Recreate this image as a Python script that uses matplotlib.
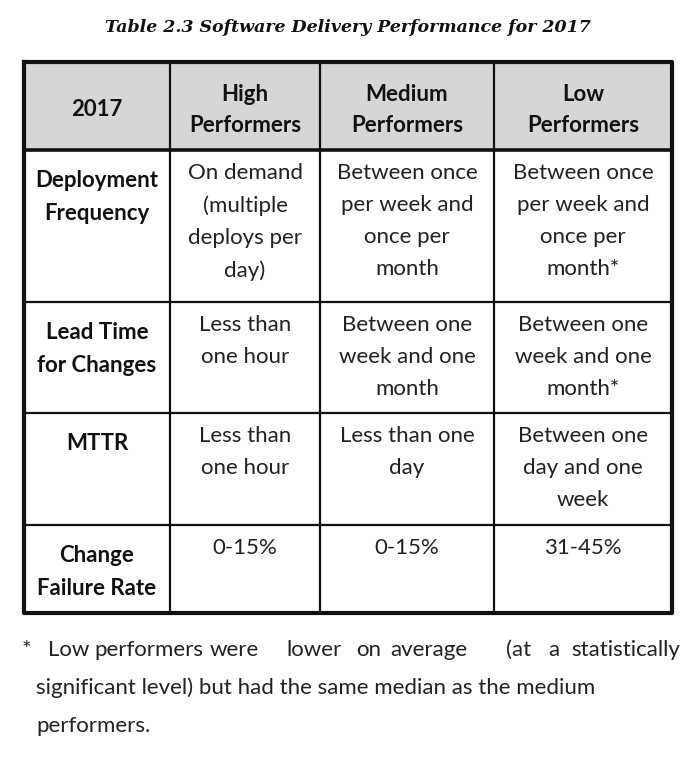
import matplotlib.pyplot as plt

title = "Table 2.3 Software Delivery Performance for 2017"
header = ["2017", "High\nPerformers", "Medium\nPerformers", "Low\nPerformers"]
row_labels = ["Deployment\nFrequency", "Lead Time\nfor Changes", "MTTR", "Change\nFailure Rate"]
high = ["On demand\n(multiple\ndeploys per\nday)", "Less than\none hour", "Less than\none hour", "0-15%"]
medium = ["Between once\nper week and\nonce per\nmonth", "Between one\nweek and one\nmonth", "Less than one\nday", "0-15%"]
low = ["Between once\nper week and\nonce per\nmonth*", "Between one\nweek and one\nmonth*", "Between one\nday and one\nweek", "31-45%"]
footnote = [["*", "Low", "performers", "were", "lower", "on", "average", "(at", "a", "statistically"],
            ["significant level) but had the same median as the medium"],
            ["performers."]]

col_x = [24, 170, 320, 494, 672]
row_y = [62, 150, 302, 413, 525, 613]

fig = plt.figure(figsize=(7, 7.6), dpi=100)
ax = fig.add_axes([0, 0, 1, 1])
ax.set_xlim(0, 700)
ax.set_ylim(760, 0)
ax.axis("off")

font = "Lato"
ax.text(348, 28, title, ha="center", va="center", fontsize=12.5,
        style="italic", weight="bold", family="DejaVu Serif", color="#111")

# header fill
ax.fill_between([col_x[0], col_x[-1]], row_y[0], row_y[1], color="#d6d6d6", zorder=0)

# grid lines
for x in col_x[1:-1]:
    ax.plot([x, x], [row_y[0], row_y[-1]], color="#111", lw=1.6)
for i, y in enumerate(row_y[1:-1]):
    ax.plot([col_x[0], col_x[-1]], [y, y], color="#111", lw=2.6 if i == 0 else 1.6)
ax.plot([col_x[0], col_x[-1], col_x[-1], col_x[0], col_x[0]],
        [row_y[0], row_y[0], row_y[-1], row_y[-1], row_y[0]], color="#111", lw=3)

for j, h in enumerate(header):
    cx = (col_x[j] + col_x[j + 1]) / 2
    ax.text(cx, (row_y[0] + row_y[1]) / 2 + 4, h, ha="center", va="center",
            fontsize=16, weight="bold", family=font, linespacing=1.6, color="#111")

for i in range(len(row_labels)):
    top = row_y[i + 1]
    cells = [row_labels[i], high[i], medium[i], low[i]]
    for j, c in enumerate(cells):
        cx = (col_x[j] + col_x[j + 1]) / 2
        if j == 0:
            ax.text(cx, top + 20, c, ha="center", va="top", fontsize=16,
                    weight="bold", family=font, linespacing=1.7, color="#111")
        else:
            ax.text(cx, top + 13, c, ha="center", va="top", fontsize=16,
                    family=font, linespacing=1.75, color="#222")

# footnote: first line justified by spreading words
words = footnote[0]
xs = [22, 48, 94, 210, 286, 356, 390, 506, 548, 571]
for w, x in zip(words, xs):
    ax.text(x, 650, w, ha="left", va="center", fontsize=16, family=font, color="#222")
ax.text(36, 688, footnote[1][0], ha="left", va="center", fontsize=16, family=font,
        color="#222")
ax.text(36, 726, footnote[2][0], ha="left", va="center", fontsize=16, family=font,
        color="#222")

fig.savefig("out.png", dpi=100, facecolor="white")
